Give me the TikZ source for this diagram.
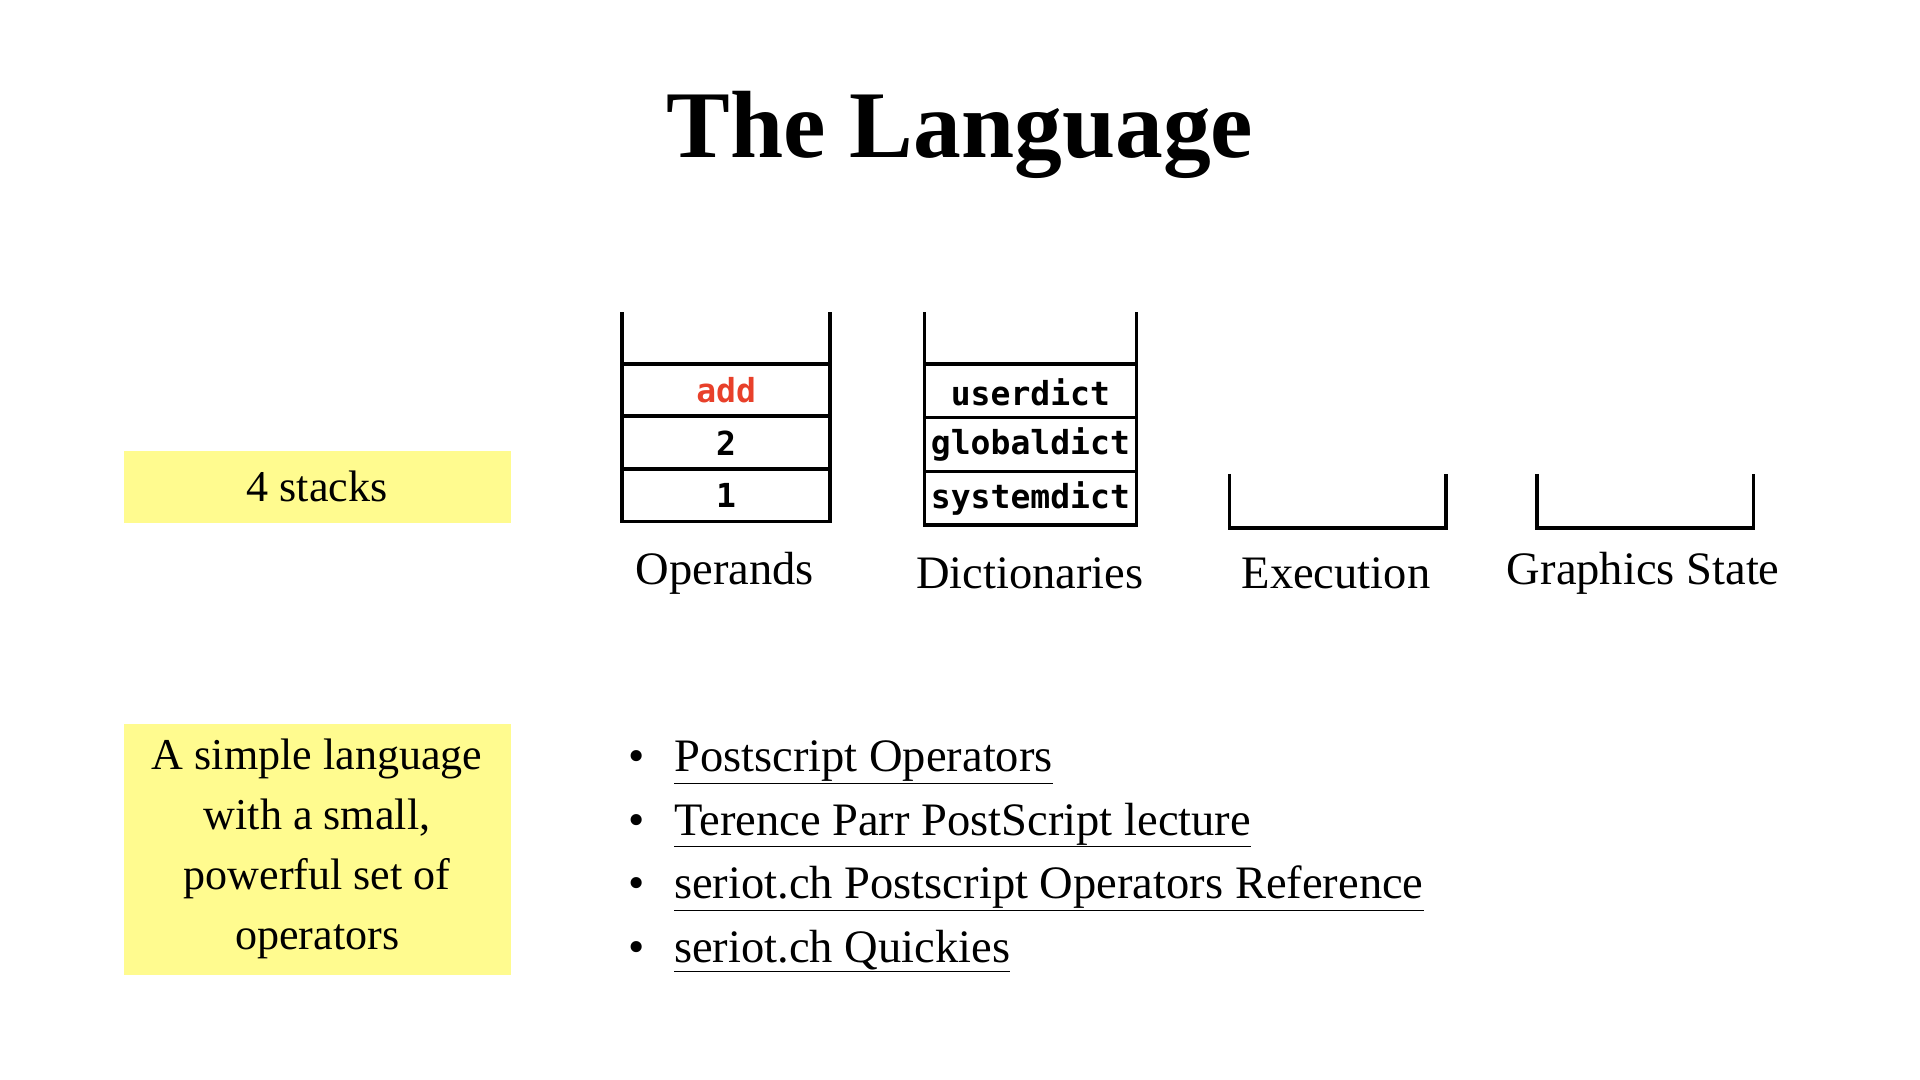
\documentclass[tikz,border=0pt]{standalone}
\usepackage{fontspec}
\setmainfont{Liberation Serif}
\setmonofont{DejaVu Sans Mono}
\definecolor{hl}{HTML}{FFFB8F}
\definecolor{redop}{HTML}{E8402A}
\tikzset{
  hlbox/.style={fill=hl,draw=none,inner sep=0pt,align=center,font=\fontsize{36}{49}\selectfont},
  cell/.style={font=\fontsize{27}{30}\selectfont\ttfamily\bfseries,anchor=center},
  lab/.style={font=\fontsize{38}{44}\selectfont,anchor=center},
  stk/.style={line width=3pt},
  item/.style={font=\fontsize{38}{44}\selectfont,anchor=base west}
}
\begin{document}
\begin{tikzpicture}[x=1pt,y=-1pt]
\useasboundingbox (0,0) rectangle (1568,882);
\node[font=\fontsize{78}{80}\selectfont\bfseries] (title) at (784,110) {The Language};
\node[hlbox,minimum width=316pt,minimum height=59pt] (b1) at (259,397.5) {4 stacks};
\node[hlbox,minimum width=316pt,minimum height=205pt] (b2) at (259,693.5) {A simple language\\with a small,\\powerful set of\\operators};
% Operands
\draw[stk] (508,255) -- (508,426) -- (678,426) -- (678,255);
\foreach \yy in {297,340,383} \draw[stk] (508,\yy) -- (678,\yy);
\node[cell,text=redop] (o1) at (593,319) {add};
\node[cell] (o2) at (593,362) {2};
\node[cell] (o3) at (593,405) {1};
% Dictionaries
\draw[stk] (755,255) -- (755,429) -- (928,429) -- (928,255);
\foreach \yy in {297,341,385} \draw[stk] (755,\yy) -- (928,\yy);
\node[cell] (d1) at (841.5,320) {userdict};
\node[cell] (d2) at (841.5,363) {globaldict};
\node[cell] (d3) at (841.5,407) {systemdict};
% Execution, Graphics
\draw[stk] (1004,387) -- (1004,431) -- (1181,431) -- (1181,387);
\draw[stk] (1255,387) -- (1255,431) -- (1432,431) -- (1432,387);
\node[lab] (l1) at (592,468) {Operands};
\node[lab] (l2) at (841,468) {Dictionaries};
\node[lab] (l3) at (1091,468) {Execution};
\node[lab] (l4) at (1342,468) {Graphics State};
% bullets
\foreach \yy/\t [count=\i] in {630/Postscript Operators,682/Terence Parr PostScript lecture,734/seriot.ch Postscript Operators Reference,786/seriot.ch Quickies}{
  \node[item] (bu\i) at (510,\yy) {•};
  \node[item] (it\i) at (547,\yy) {\underline{\t}};
}
\end{tikzpicture}
\end{document}
